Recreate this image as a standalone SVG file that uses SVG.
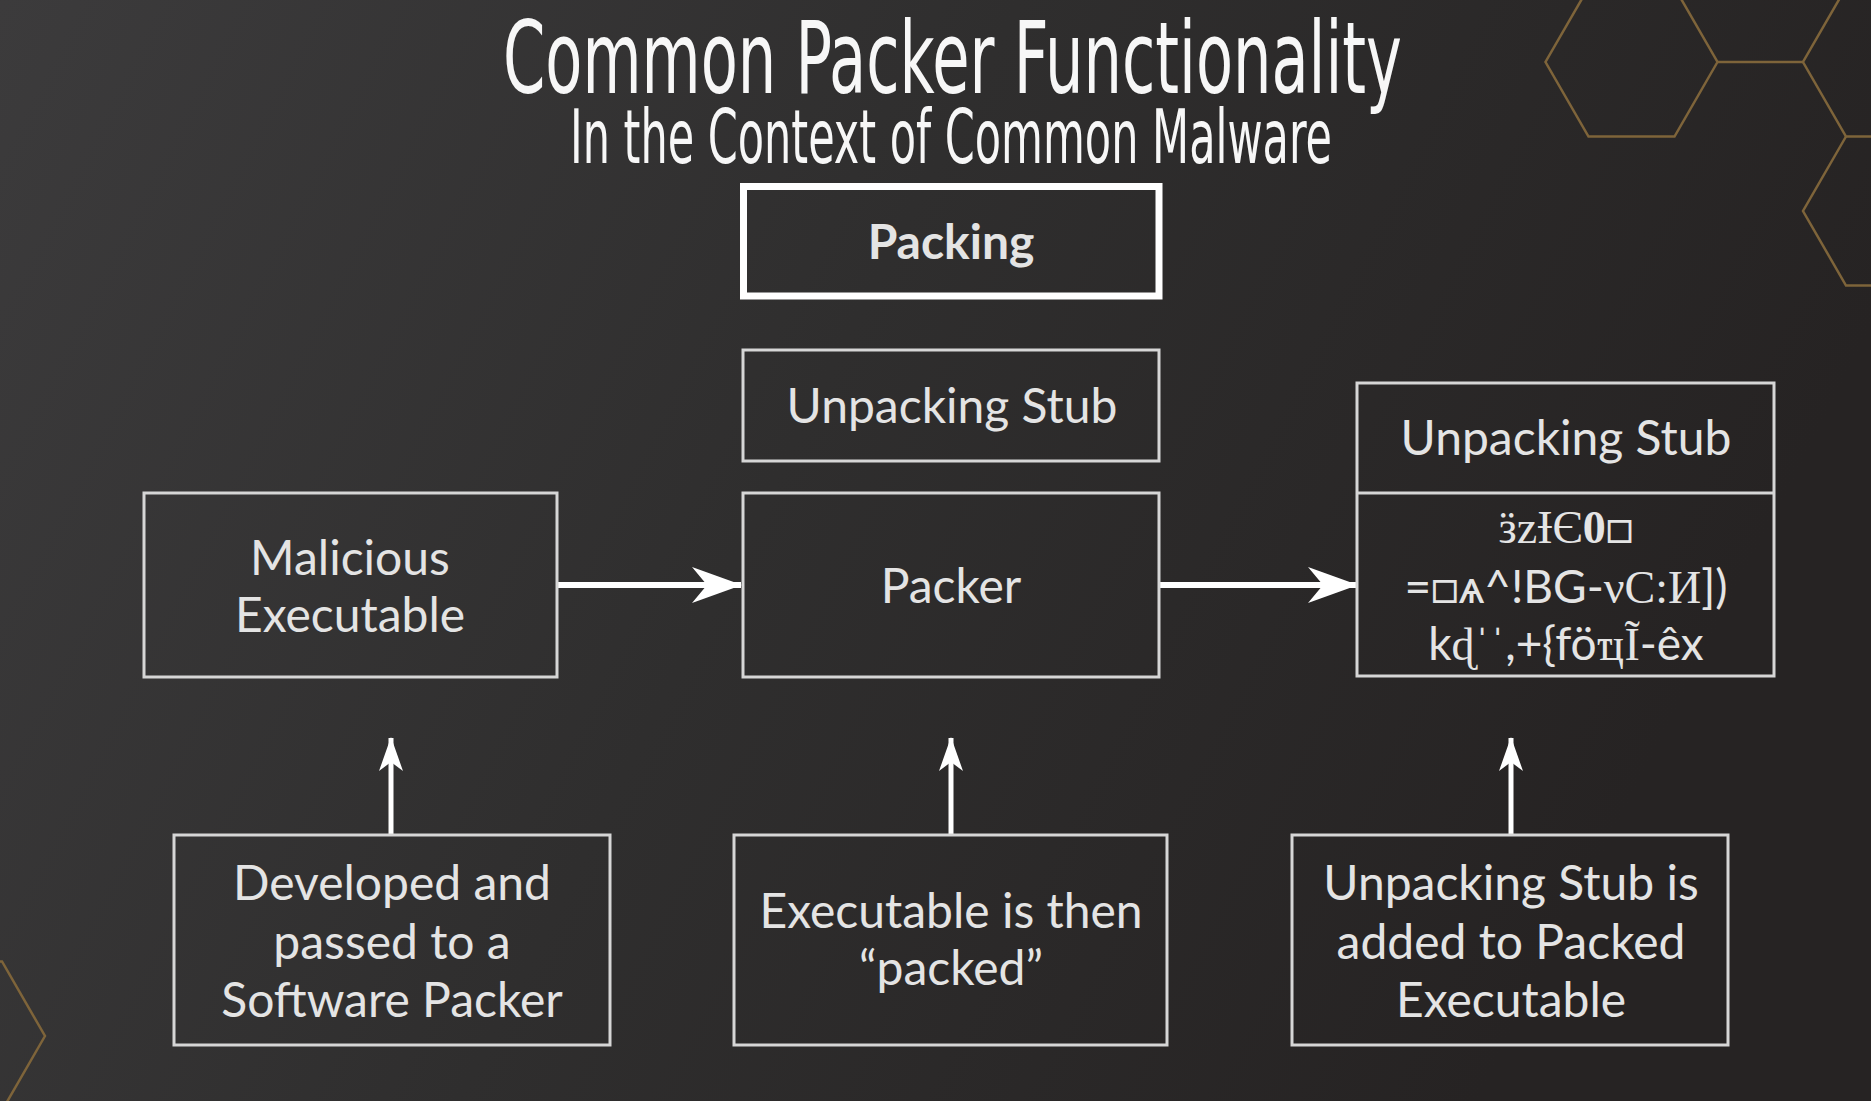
<svg xmlns="http://www.w3.org/2000/svg" width="1871" height="1101" viewBox="0 0 1871 1101">
<defs>
<linearGradient id="bg" x1="0" y1="0" x2="1" y2="0.3">
<stop offset="0" stop-color="#3c3b3c"/>
<stop offset="0.5" stop-color="#2f2e2e"/>
<stop offset="1" stop-color="#262323"/>
</linearGradient>
<marker id="ah" viewBox="0 0 50 36" refX="49" refY="18" markerWidth="50" markerHeight="36" markerUnits="userSpaceOnUse" orient="auto">
<path d="M0,0 L50,18 L0,36 L15,18 Z" fill="#ffffff"/>
</marker>
<marker id="av" viewBox="0 0 34 24" refX="33" refY="12" markerWidth="34" markerHeight="24" markerUnits="userSpaceOnUse" orient="auto">
<path d="M0,0 L34,12 L0,24 L9,12 Z" fill="#ffffff"/>
</marker>
</defs>
<style>
.box{fill:none;stroke:#d6d6d6;stroke-width:3}
.t{font-family:Lato,"Open Sans","DejaVu Sans",sans-serif;font-size:48px;font-weight:400;fill:#e4e4e4;text-anchor:middle}
.g{font-family:Lato,"DejaVu Serif","Liberation Serif",serif;font-size:46px;font-weight:400;fill:#e4e4e4;text-anchor:middle}
.s{font-family:"Liberation Serif","DejaVu Serif",serif;font-weight:400}
.ttl{font-family:"Liberation Sans Narrow","DejaVu Sans Condensed","Open Sans",sans-serif;fill:#f7f7f7;text-anchor:start}
.hex{fill:none;stroke:#7e643a;stroke-width:2.5}
.arr{stroke:#ffffff;fill:none}
</style>
<rect x="0" y="0" width="1871" height="1101" fill="url(#bg)"/>
<g id="decor">
<path class="hex" d="M1717.5,62 L1674.5,136.5 L1588.5,136.5 L1545.5,62 L1588.5,-12.5 L1674.5,-12.5 Z"/>
<path class="hex" d="M1717.5,62 L1803,62"/>
<path class="hex" d="M1846,-12.5 L1803,62 L1846,136.5 L1932,136.5"/>
<path class="hex" d="M1846,136.5 L1803,211 L1846,285.5 L1932,285.5"/>
<path class="hex" d="M45,1036 L2,1110.5 L-84,1110.5 L-127,1036 L-84,961.5 L2,961.5 Z"/>
</g>
<g id="title">
<text class="ttl" x="503" y="93" font-size="100" textLength="899" lengthAdjust="spacingAndGlyphs">Common Packer Functionality</text>
<text class="ttl" x="570" y="163" font-size="74" textLength="762" lengthAdjust="spacingAndGlyphs">In the Context of Common Malware</text>
</g>
<g id="connectors">
<line class="arr" x1="557" y1="585" x2="741" y2="585" stroke-width="6" marker-end="url(#ah)"/>
<line class="arr" x1="1159" y1="585" x2="1357" y2="585" stroke-width="6" marker-end="url(#ah)"/>
<line class="arr" x1="391" y1="835" x2="391" y2="738" stroke-width="5" marker-end="url(#av)"/>
<line class="arr" x1="951" y1="835" x2="951" y2="738" stroke-width="5" marker-end="url(#av)"/>
<line class="arr" x1="1511" y1="835" x2="1511" y2="738" stroke-width="5" marker-end="url(#av)"/>
</g>
<g id="packing">
<rect x="743.5" y="186.5" width="415.5" height="109.5" fill="none" stroke="#ffffff" stroke-width="7"/>
<text class="t" x="951" y="259" style="font-weight:700" fill="#f5f5f5">Packing</text>
</g>
<g id="stub-mid">
<rect class="box" x="743" y="350" width="416" height="111"/>
<text class="t" x="952" y="423">Unpacking Stub</text>
</g>
<g id="malicious">
<rect class="box" x="144" y="493" width="413" height="184"/>
<text class="t" x="350" y="575">Malicious</text>
<text class="t" x="350" y="632">Executable</text>
</g>
<g id="packer">
<rect class="box" x="743" y="493" width="416" height="184"/>
<text class="t" x="951" y="603">Packer</text>
</g>
<g id="packed-exe">
<rect class="box" x="1357" y="383" width="417" height="293"/>
<line class="box" x1="1357" y1="493" x2="1774" y2="493"/>
<text class="t" x="1566" y="455">Unpacking Stub</text>
<text class="g" x="1566" y="543"><tspan class="s">ӟzƗЄ</tspan><tspan class="s" style="font-weight:700">0</tspan>□</text>
<text class="g" x="1566" y="603">=□ѧ^!BG-<tspan class="s">νC:И</tspan>])</text>
<text class="g" x="1566" y="660">k<tspan class="s">ɖˈˈ</tspan>,+{fö<tspan class="s">ҵĨ</tspan>-êx</text>
</g>
<g id="developed">
<rect class="box" x="174" y="835" width="436" height="210"/>
<text class="t" x="392" y="900">Developed and</text>
<text class="t" x="392" y="959">passed to a</text>
<text class="t" x="392" y="1017">Software Packer</text>
</g>
<g id="then-packed">
<rect class="box" x="734" y="835" width="433" height="210"/>
<text class="t" x="951" y="928">Executable is then</text>
<text class="t" x="951" y="985">“packed”</text>
</g>
<g id="stub-added">
<rect class="box" x="1292" y="835" width="436" height="210"/>
<text class="t" x="1511" y="900">Unpacking Stub is</text>
<text class="t" x="1511" y="959">added to Packed</text>
<text class="t" x="1511" y="1017">Executable</text>
</g>
</svg>
